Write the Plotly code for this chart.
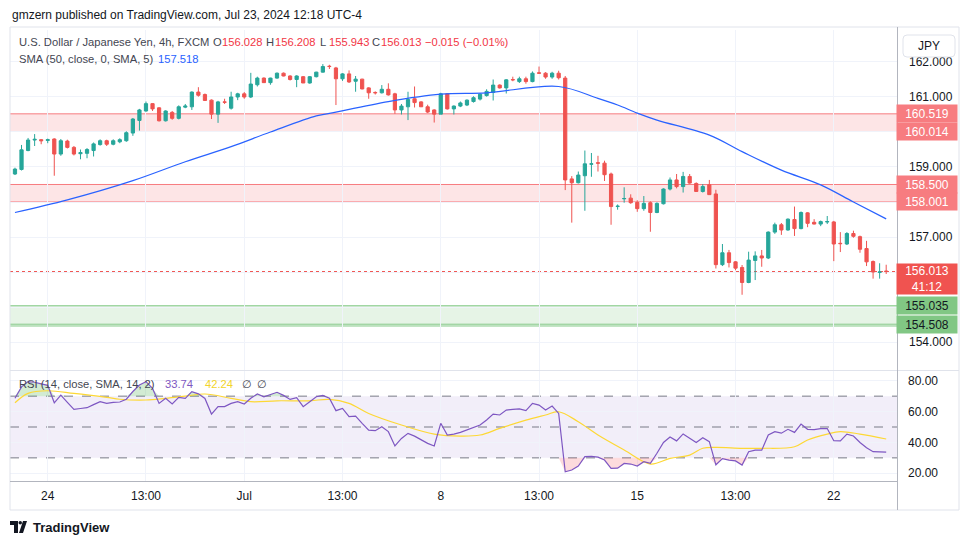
import plotly.graph_objects as go

# ---------------- data ----------------
opens = [158.80,158.93,159.47,159.77,159.78,159.76,159.80,159.37,159.74,159.56,
         159.38,159.39,159.47,159.64,159.75,159.65,159.72,159.75,159.97,160.33,
         160.60,160.81,160.69,160.32,160.56,160.39,160.71,160.72,161.14,161.07,
         160.91,160.51,160.86,160.68,161.00,161.09,161.00,161.35,161.54,161.41,
         161.54,161.68,161.60,161.50,161.58,161.40,161.58,161.71,161.88,161.83,
         161.52,161.66,161.45,161.51,161.26,161.13,161.12,161.22,161.09,160.63,
         160.72,160.95,160.86,160.72,160.63,160.51,161.09,160.66,160.74,160.77,
         160.87,160.94,161.04,161.13,161.34,161.26,161.50,161.44,161.52,161.44,
         161.69,161.68,161.57,161.68,161.54,158.66,158.55,158.75,159.08,159.12,
         159.11,158.80,157.87,158.09,158.11,157.99,157.81,157.98,157.70,157.95,
         158.37,158.63,158.44,158.73,158.53,158.30,158.49,158.23,156.21,156.55,
         156.29,156.13,155.70,156.33,156.46,156.40,157.14,157.35,157.20,157.50,
         157.24,157.69,157.42,157.37,157.43,157.43,156.82,156.80,157.10,157.01,
         156.67,156.30,155.99,156.028]
highs = [158.98,159.63,159.83,159.94,159.80,159.81,159.82,159.80,159.78,159.60,
         159.50,159.54,159.70,159.79,159.78,159.79,159.82,160.02,160.40,160.66,
         160.87,160.82,160.71,160.62,160.60,160.76,160.80,161.16,161.28,161.10,
         160.93,160.89,160.95,161.15,161.12,161.14,161.69,161.58,161.56,161.55,
         161.70,161.70,161.62,161.62,161.60,161.60,161.72,161.94,161.92,161.86,
         161.68,161.76,161.60,161.52,161.28,161.16,161.34,161.39,161.12,160.80,
         161.15,161.30,160.88,160.78,160.65,161.12,161.11,160.76,160.87,160.93,
         161.02,161.10,161.22,161.50,161.36,161.51,161.58,161.58,161.58,161.73,
         161.87,161.71,161.72,161.75,161.60,158.74,158.87,159.47,159.40,159.32,
         159.18,158.84,157.93,158.42,158.22,158.05,158.17,158.02,157.99,158.39,
         158.70,158.80,158.86,158.80,158.56,158.51,158.63,158.35,156.80,156.63,
         156.31,156.20,156.58,156.59,156.63,157.16,157.41,157.40,157.53,157.87,
         157.73,157.71,157.51,157.47,157.60,157.46,157.14,157.14,157.18,157.04,
         156.89,156.33,156.25,156.208]
lows = [158.77,158.90,159.45,159.60,159.65,159.68,158.75,159.32,159.53,159.33,
        159.22,159.25,159.30,159.61,159.60,159.62,159.68,159.72,159.89,160.04,
        160.58,160.60,160.30,160.30,160.35,160.36,160.68,160.63,161.01,160.90,
        160.37,160.26,160.80,160.64,160.91,160.95,160.97,161.30,161.40,161.35,
        161.52,161.59,161.47,161.28,161.40,161.38,161.56,161.70,161.80,160.77,
        161.46,161.40,161.15,161.22,160.95,161.07,161.10,161.04,160.52,160.50,
        160.34,160.70,160.72,160.54,160.27,160.51,160.64,160.50,160.71,160.74,
        160.84,160.90,161.01,160.90,161.24,161.10,161.45,161.40,161.38,161.42,
        161.66,161.52,161.52,161.50,158.34,157.41,158.53,157.75,158.72,158.87,
        158.60,157.35,157.78,157.98,157.95,157.72,157.75,157.15,157.68,157.93,
        158.33,158.39,158.27,158.52,158.29,158.27,158.20,156.10,156.17,156.13,
        156.05,155.35,155.68,155.77,156.15,156.37,157.09,157.06,157.18,157.03,
        157.22,157.28,157.36,157.31,157.37,156.31,156.57,156.77,156.98,156.55,
        156.17,155.81,155.81,155.943]
closes = [158.94,159.49,159.77,159.79,159.75,159.78,159.37,159.75,159.56,159.37,
          159.41,159.50,159.66,159.75,159.65,159.75,159.78,159.98,160.37,160.63,
          160.81,160.66,160.32,160.60,160.39,160.72,160.74,161.14,161.05,160.90,
          160.51,160.86,160.85,161.00,161.09,161.00,161.37,161.54,161.41,161.54,
          161.68,161.60,161.50,161.60,161.40,161.58,161.71,161.87,161.87,161.52,
          161.66,161.43,161.51,161.23,161.12,161.12,161.22,161.06,160.63,160.74,
          160.93,160.84,160.72,160.57,160.51,161.09,160.66,160.74,160.83,160.91,
          160.98,161.08,161.16,161.34,161.26,161.49,161.49,161.52,161.44,161.68,
          161.68,161.57,161.68,161.55,158.63,158.55,158.77,159.09,159.09,159.11,
          158.78,157.87,157.88,158.10,157.98,157.81,157.96,157.70,157.96,158.37,
          158.63,158.44,158.73,158.54,158.30,158.44,158.21,156.21,156.55,156.27,
          156.11,155.70,156.34,156.46,156.40,157.14,157.35,157.20,157.51,157.24,
          157.70,157.39,157.37,157.44,157.44,156.80,156.81,157.10,157.02,156.65,
          156.29,156.00,156.00,156.013]

sma_idx = [0, 8, 18, 26, 33, 39, 46, 48, 57, 65, 72, 83, 89, 92, 95, 98, 106, 111, 117, 123, 128, 133]
sma_val = [157.70, 158.06, 158.61, 159.15, 159.58, 160.00, 160.46, 160.53, 160.87, 161.08, 161.12, 161.30,
           160.96, 160.77, 160.54, 160.34, 159.91, 159.44, 158.91, 158.49, 158.00, 157.518]

rsi = [68.6,76,79.4,79,78,77,65.7,70.7,66,61.4,
       62,62.5,64.5,66.4,65.3,66,66.2,68,73,77.2,
       79.4,75,65.3,68.6,64.9,69.2,68.6,72.9,71.5,68.5,
       58.4,63.2,63.2,65.3,66.4,64.9,68.6,71.4,69.6,71,
       72.5,70.5,67.9,69,63.2,66.4,69.6,70.5,68.6,60.6,
       62.1,56.7,57.1,52.4,48,47.6,50.2,47,37.7,42.6,
       45.9,44.1,41.5,39.4,37.7,52.4,44.8,45.4,46.5,48,
       49.5,51.3,54.5,58.4,57.8,61,61.4,61.8,60.6,65.3,
       64.2,61,63.6,58.8,21,22.1,24.7,30.8,31,30.5,
       28.6,23.2,23.3,26.4,26,24.7,27.5,26.4,33,40,
       43.5,41,45.5,42.5,40,43,40.5,25.5,29.5,28.5,
       28,25.3,34,35,35,44.8,47,46,48.5,46.5,
       51.9,48.5,48.3,49,49,41.1,41,45.4,44.2,40,
       36.5,34,34,33.74]

rsi_sma_idx = [0, 2, 5, 9, 14, 16, 20, 23, 26, 29, 33, 36, 40, 45, 48, 51, 54, 59, 64, 68, 71,
               74, 78, 81, 83, 86, 89, 93, 97, 100, 103, 105, 107, 111, 114, 119, 121, 124, 126, 129, 133]
rsi_sma_val = [65.7, 71.8, 73.5, 71.8, 69.2, 68, 67.5, 68.6, 70, 71.4, 68.6, 66.4, 67, 67, 67.9, 65.3,
               58.8, 51.3, 45.4, 44.1, 44.8, 49.1, 54.5, 57.8, 59.9, 53.4, 44.8, 35.1, 26, 29.7, 31.8,
               36.2, 36.8, 36.2, 36.2, 37.2, 41.6, 45.4, 47, 45.4, 42.24]

tick_idx = [5, 20, 35, 50, 65, 80, 95, 110, 125]
tick_text = ["24", "13:00", "Jul", "13:00", "8", "13:00", "15", "13:00", "22"]

price_ticks = [154, 155, 156, 157, 158, 159, 160, 161, 162]
price_tick_shown = [154, 157, 159, 161, 162]
rsi_ticks = [20, 40, 60, 80]

red_zones = [(160.014, 160.519), (158.001, 158.500)]
green_zone = (154.508, 155.035)
last_price = 156.013
countdown = "41:12"
sma_last = 157.518
rsi_last, rsi_sma_last = 33.74, 42.24

# ---------------- geometry ----------------
W, H = 970, 545
PL, PR, PT, PB = 10, 897, 30, 481
MAIN_BOTTOM = 370
RSI_TOP = 371

def px(x):
    return (x - PL) / (PR - PL)

def py(y):
    return (PB - y) / (PB - PT)

GREEN = "#26a69a"
RED = "#ef5350"
TXT = "#131722"
LEG = "#434651"
VALRED = "#f23645"
GRID = "#f0f3fa"
FONT = "Liberation Sans, Arial, sans-serif"

idx = list(range(len(closes)))

fig = go.Figure()

fig.add_trace(go.Candlestick(
    x=idx, open=opens, high=highs, low=lows, close=closes,
    increasing=dict(line=dict(color=GREEN, width=1), fillcolor=GREEN),
    decreasing=dict(line=dict(color=RED, width=1), fillcolor=RED),
    whiskerwidth=0, showlegend=False, hoverinfo="skip", xaxis="x", yaxis="y"))

fig.add_trace(go.Scatter(x=sma_idx, y=sma_val, mode="lines", line_shape="spline",
                         line=dict(color="#2962ff", width=1.2), showlegend=False,
                         hoverinfo="skip", xaxis="x", yaxis="y"))

# RSI overbought / oversold fills
ob = [max(v, 70) for v in rsi]
os_ = [min(v, 30) for v in rsi]
fig.add_trace(go.Scatter(x=idx, y=[70] * len(idx), mode="lines", line=dict(width=0),
                         showlegend=False, hoverinfo="skip", xaxis="x2", yaxis="y2"))
fig.add_trace(go.Scatter(x=idx, y=ob, mode="lines", line=dict(width=0), fill="tonexty",
                         fillcolor="rgba(76,175,80,0.25)", showlegend=False, hoverinfo="skip",
                         xaxis="x2", yaxis="y2"))
fig.add_trace(go.Scatter(x=idx, y=[30] * len(idx), mode="lines", line=dict(width=0),
                         showlegend=False, hoverinfo="skip", xaxis="x2", yaxis="y2"))
fig.add_trace(go.Scatter(x=idx, y=os_, mode="lines", line=dict(width=0), fill="tonexty",
                         fillcolor="rgba(242,54,69,0.18)", showlegend=False, hoverinfo="skip",
                         xaxis="x2", yaxis="y2"))

fig.add_trace(go.Scatter(x=rsi_sma_idx, y=rsi_sma_val, mode="lines", line_shape="spline",
                         line=dict(color="#fdd835", width=1.2), showlegend=False,
                         hoverinfo="skip", xaxis="x2", yaxis="y2"))
fig.add_trace(go.Scatter(x=idx, y=rsi, mode="lines",
                         line=dict(color="#7e57c2", width=1.2), showlegend=False,
                         hoverinfo="skip", xaxis="x2", yaxis="y2"))

shapes = []
for lo, hi in red_zones:
    shapes.append(dict(type="rect", xref="paper", yref="y", x0=0, x1=1, y0=lo, y1=hi,
                       fillcolor="rgba(247,124,128,0.2)", line=dict(width=0), layer="between"))
    for v in (lo, hi):
        shapes.append(dict(type="line", xref="paper", yref="y", x0=0, x1=1, y0=v, y1=v,
                           line=dict(color="#f77c80", width=1), layer="between"))
lo, hi = green_zone
shapes.append(dict(type="rect", xref="paper", yref="y", x0=0, x1=1, y0=lo, y1=hi,
                   fillcolor="rgba(129,199,132,0.2)", line=dict(width=0), layer="between"))
for v in (lo, hi):
    shapes.append(dict(type="line", xref="paper", yref="y", x0=0, x1=1, y0=v, y1=v,
                       line=dict(color="#81c784", width=1), layer="between"))
shapes.append(dict(type="line", xref="paper", yref="y", x0=0, x1=1, y0=lo - 0.05, y1=lo - 0.05,
                   line=dict(color="#81c784", width=1), layer="between"))
shapes.append(dict(type="line", xref="paper", yref="y", x0=0, x1=1, y0=last_price, y1=last_price,
                   line=dict(color=RED, width=1, dash="dot"), layer="between"))
shapes.append(dict(type="rect", xref="paper", yref="y2", x0=0, x1=1, y0=30, y1=70,
                   fillcolor="rgba(126,87,194,0.1)", line=dict(width=0), layer="below"))
for v in (70, 50, 30):
    shapes.append(dict(type="line", xref="paper", yref="y2", x0=0, x1=1, y0=v, y1=v,
                       line=dict(color="#787b86", width=1, dash="dash"), layer="between"))
shapes.append(dict(type="rect", xref="paper", yref="paper", x0=px(10), x1=px(959), y0=py(27), y1=py(510),
                   line=dict(color="#e0e3eb", width=1), fillcolor="rgba(0,0,0,0)", layer="above"))
shapes.append(dict(type="line", xref="paper", yref="paper", x0=px(10), x1=px(959),
                   y0=py(370.5), y1=py(370.5), line=dict(color="#e0e3eb", width=1), layer="above"))
shapes.append(dict(type="line", xref="paper", yref="paper", x0=px(10), x1=px(897.5),
                   y0=py(481.5), y1=py(481.5), line=dict(color="#b2b5be", width=1), layer="above"))
shapes.append(dict(type="line", xref="paper", yref="paper", x0=px(897.5), x1=px(897.5),
                   y0=py(27), y1=py(510), line=dict(color="#b2b5be", width=1), layer="above"))
# JPY button (rounded)
bx0, bx1, by0, by1, r = px(903), px(955), py(35), py(57), 4
rx, ry = r / (PR - PL), r / (PB - PT)
shapes.append(dict(type="path", xref="paper", yref="paper",
                   path=(f"M {bx0+rx} {by0} L {bx1-rx} {by0} Q {bx1} {by0} {bx1} {by0-ry} "
                         f"L {bx1} {by1+ry} Q {bx1} {by1} {bx1-rx} {by1} L {bx0+rx} {by1} "
                         f"Q {bx0} {by1} {bx0} {by1+ry} L {bx0} {by0-ry} Q {bx0} {by0} {bx0+rx} {by0} Z"),
                   fillcolor="white", line=dict(color="#e0e3eb", width=1), layer="above"))
# TradingView logo
shapes.append(dict(type="path", xref="paper", yref="paper",
                   path=f"M {px(10)} {py(521)} L {px(18)} {py(521)} L {px(18)} {py(533)} L {px(14)} {py(533)} "
                        f"L {px(14)} {py(525)} L {px(10)} {py(525)} Z",
                   fillcolor="#131722", line=dict(width=0), layer="above"))
shapes.append(dict(type="circle", xref="paper", yref="paper", x0=px(18.5), x1=px(22), y0=py(521), y1=py(524.5),
                   fillcolor="#131722", line=dict(width=0), layer="above"))
shapes.append(dict(type="path", xref="paper", yref="paper",
                   path=f"M {px(23)} {py(521)} L {px(27)} {py(521)} L {px(23)} {py(533)} L {px(19)} {py(533)} Z",
                   fillcolor="#131722", line=dict(width=0), layer="above"))

ann = []

def txt(x, y, s, color=TXT, size=12, anchor="left"):
    ann.append(dict(xref="paper", yref="paper", x=px(x), y=py(y), text=s, showarrow=False,
                    xanchor=anchor, yanchor="middle", font=dict(color=color, size=size, family=FONT)))

LS = 11.2
txt(10, 15, "gmzern published on TradingView.com, Jul 23, 2024 12:18 UTC-4", size=12)
txt(17, 42, "U.S. Dollar / Japanese Yen, 4h, FXCM", color=LEG, size=LS)
ohlc_vals = [("O", opens[-1], 211), ("H", highs[-1], 264), ("L", lows[-1], 318), ("C", closes[-1], 370)]
for lab, val, x0 in ohlc_vals:
    txt(x0, 42, lab, color=LEG, size=LS)
    txt(x0 + 8.5, 42, f"{val:.3f}", color=VALRED, size=LS)
chg = closes[-1] - opens[-1]
txt(423, 42, f"\u2212{abs(chg):.3f} (\u2212{abs(chg) / opens[-1] * 100:.2f}%)", color=VALRED, size=LS)
txt(17, 59, "SMA (50, close, 0, SMA, 5)", color=LEG, size=LS)
txt(156, 59, f"{sma_last:.3f}", color="#2962ff", size=LS)
txt(17, 384, "RSI (14, close, SMA, 14, 2)", color=LEG, size=LS)
txt(163, 384, f"{rsi_last:.2f}", color="#7e57c2", size=LS)
txt(203, 384, f"{rsi_sma_last:.2f}", color="#f2d42a", size=LS)
txt(240, 384, "\u2205", color=LEG, size=LS)
txt(255, 384, "\u2205", color=LEG, size=LS)
txt(929, 46, "JPY", size=12, anchor="center")
txt(31, 527, "<b>TradingView</b>", size=13)

def box(price, text, bg, fg="white", h=13, top=False):
    d = dict(xref="paper", yref="y", x=1, y=price, xshift=-1, xanchor="left",
             text=text, showarrow=False, bgcolor=bg, width=56, height=h, borderpad=2,
             font=dict(color=fg, size=12, family=FONT), align="center")
    if top:
        d.update(yanchor="top", yshift=9)
    else:
        d.update(yanchor="middle")
    ann.append(d)

for lo_, hi_ in red_zones:
    box(hi_, f"{hi_:.3f}", "#f77c80")
    box(lo_, f"{lo_:.3f}", "#f77c80")
box(last_price, f"{last_price:.3f}<br>{countdown}", "#f05350", h=26, top=True)
box(green_zone[1], f"{green_zone[1]:.3f}", "#81c784", fg=TXT)
box(green_zone[0], f"{green_zone[0]:.3f}", "#81c784", fg=TXT)

xr = [-0.76, 134.65]
main_dom = [(PB - MAIN_BOTTOM) / (PB - PT), 1]
rsi_dom = [0, (PB - RSI_TOP) / (PB - PT)]

fig.update_layout(
    width=W, height=H, margin=dict(l=PL, r=W - PR, t=PT, b=H - PB),
    paper_bgcolor="white", plot_bgcolor="white",
    font=dict(family=FONT, color=TXT, size=12),
    showlegend=False, shapes=shapes, annotations=ann,
    xaxis=dict(domain=[0, 1], anchor="y", range=xr, tickvals=tick_idx, showticklabels=False,
               showgrid=True, gridcolor=GRID, zeroline=False, showline=False, ticks="",
               rangeslider=dict(visible=False), fixedrange=True),
    xaxis2=dict(domain=[0, 1], anchor="y2", range=xr, tickvals=tick_idx, ticktext=tick_text,
                showgrid=True, gridcolor=GRID, zeroline=False, showline=False, ticks="",
                tickfont=dict(size=12, color=TXT), ticklabelstandoff=6, fixedrange=True),
    yaxis=dict(domain=main_dom, anchor="x", side="right", range=[153.2, 162.914],
               tickvals=price_ticks,
               ticktext=[f"{v:.3f}" if v in price_tick_shown else "" for v in price_ticks],
               showgrid=True, gridcolor=GRID, zeroline=False, ticks="", showline=False,
               tickfont=dict(size=12, color=TXT), ticklabelstandoff=11, fixedrange=True),
    yaxis2=dict(domain=rsi_dom, anchor="x2", side="right", range=[15.0, 86.3],
                tickvals=rsi_ticks, ticktext=[f"{v:.2f}" for v in rsi_ticks],
                showgrid=True, gridcolor=GRID, zeroline=False, ticks="", showline=False,
                tickfont=dict(size=12, color=TXT), ticklabelstandoff=10, fixedrange=True),
)

fig.write_html("out.html")
